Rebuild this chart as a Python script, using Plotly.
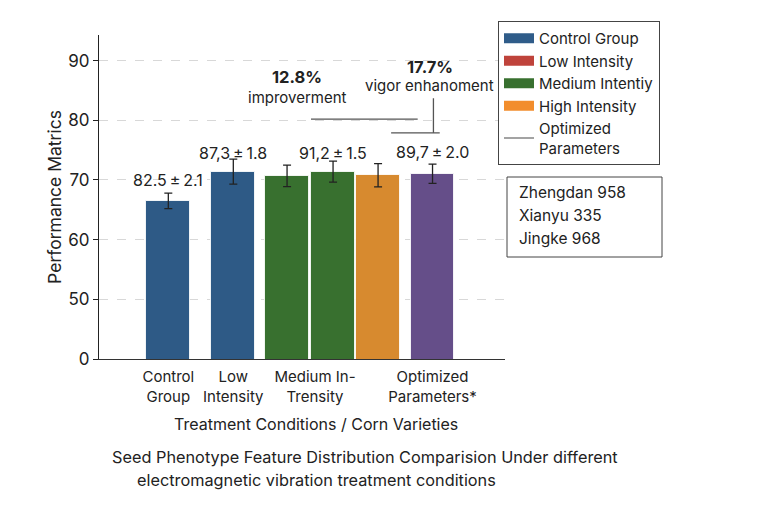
import plotly.graph_objects as go

# ---------------- data ----------------
categories = ["Control Group", "Low Intensity", "Medium Intensity A",
              "Medium Intensity B", "High Intensity", "Optimized Parameters"]
values = [66.5, 71.4, 70.7, 71.4, 70.8, 71.05]
errors = [1.3, 2.1, 1.8, 1.75, 1.95, 1.6]
bar_labels = ["82.5\u2009±\u20092.1", "87,3\u2009±\u20091.8", "", "91,2\u2009±\u20091.5", "",
              "89,7\u2009±\u20092.0"]
tick_labels = ["Control<br>Group", "Low<br>Intensity", "Medium In-<br>Trensity",
               "Optimized<br>Parameters*"]
y_tick_values = [40, 50, 60, 70, 80, 90]
y_tick_text = ["0", "50", "60", "70", "80", "90"]
legend_names = ["Control Group", "Low Intensity", "Medium Intentiy",
                "High Intensity", "Optimized<br>Parameters"]
varieties = ["Zhengdan 958", "Xianyu 335", "Jingke 968"]

# ---------------- layout constants ----------------
W, H = 758, 506
FONT = "Inter"
TXT = "#222222"
bar_x = [0, 1.444, 2.638, 3.66, 4.66, 5.87]
tick_x = [0, 1.444, 3.26, 5.87]
label_y = [70.0, 74.5, 0, 74.5, 0, 74.7]
bar_colors = ["#2E5A86", "#2E5A86", "#38702F", "#38702F", "#D78A2F", "#654E89"]
legend_colors = ["#2F5C89", "#BF433B", "#38702F", "#F28D2C", "#666666"]

L, R, T, B = 99, 253, 35, 147
pw, ph = W - L - R, H - T - B


def px(xp):
    return (xp - L) / pw


def py(yp):
    return (H - B - yp) / ph


fig = go.Figure()
fig.add_trace(go.Bar(
    x=bar_x, y=values, width=0.975,
    marker=dict(color=bar_colors, line=dict(color="rgba(255,255,255,0.85)", width=1)),
    error_y=dict(type="data", array=errors, color="#222222", thickness=1.3, width=4),
    showlegend=False, hoverinfo="skip",
))

for i, (n, c) in enumerate(zip(legend_names, legend_colors)):
    last = i == len(legend_names) - 1
    fig.add_trace(go.Scatter(
        x=[None], y=[None], mode="lines", name=n,
        line=dict(color=c, width=1.2 if last else 10),
    ))

ann = []
for xi, yi, t in zip(bar_x, label_y, bar_labels):
    if t:
        ann.append(dict(x=xi, y=yi, text=t, showarrow=False, xref="x", yref="y",
                        font=dict(size=16, color=TXT, family=FONT)))

ann += [
    dict(x=2.86, y=87.2, xref="x", yref="y", showarrow=False,
         text="<b>12.8%</b>", font=dict(size=16.5, color=TXT, family=FONT)),
    dict(x=2.86, y=83.9, xref="x", yref="y", showarrow=False,
         text="improverment", font=dict(size=15, color=TXT, family=FONT)),
    dict(x=5.81, y=88.9, xref="x", yref="y", showarrow=False,
         text="<b>17.7%</b>", font=dict(size=16.5, color=TXT, family=FONT)),
    dict(x=5.81, y=85.9, xref="x", yref="y", showarrow=False,
         text="vigor enhanoment", font=dict(size=15, color=TXT, family=FONT)),
    # x title
    dict(x=px(316), y=py(424), xref="paper", yref="paper", showarrow=False,
         yanchor="middle", text="Treatment Conditions / Corn Varieties",
         font=dict(size=16, color=TXT, family=FONT)),
    # caption
    dict(x=px(110), y=py(457), xref="paper", yref="paper", xanchor="left",
         yanchor="middle", showarrow=False,
         text="Seed Phenotype Feature Distribution Comparision Under different",
         font=dict(size=16.3, color=TXT, family=FONT)),
    dict(x=px(135), y=py(480), xref="paper", yref="paper", xanchor="left",
         yanchor="middle", showarrow=False,
         text="electromagnetic vibration treatment conditions",
         font=dict(size=16.3, color=TXT, family=FONT)),
]
# variety box lines
for k, v in enumerate(varieties):
    ann.append(dict(x=px(517), y=py(193 + 22.5 * k), xref="paper", yref="paper",
                    xanchor="left", yanchor="middle", showarrow=False, text=v,
                    font=dict(size=15.5, color=TXT, family=FONT)))

line_style = dict(color="#555555", width=1.3)
shapes = [
    dict(type="line", xref="x", yref="y", x0=3.17, x1=5.54, y0=80.2, y1=80.2, line=line_style),
    dict(type="line", xref="x", yref="y", x0=5.89, x1=5.89, y0=77.9, y1=83.7, line=line_style),
    dict(type="line", xref="x", yref="y", x0=4.95, x1=6.03, y0=77.9, y1=77.9, line=line_style),
    dict(type="rect", xref="paper", yref="paper", x0=px(507), x1=px(662),
         y0=py(257), y1=py(177), line=dict(color="#444444", width=1),
         fillcolor="white", layer="above"),
]

fig.update_layout(
    width=W, height=H,
    margin=dict(l=L, r=R, t=T, b=B, autoexpand=False),
    paper_bgcolor="white", plot_bgcolor="white",
    font=dict(family=FONT, color=TXT),
    annotations=ann, shapes=shapes,
    legend=dict(x=px(498), y=1 + (T - 21) / ph, xanchor="left", yanchor="top",
                bgcolor="white", bordercolor="#444444", borderwidth=1,
                font=dict(size=15, color=TXT, family=FONT), itemwidth=30,
                tracegroupgap=0),
    xaxis=dict(range=[-1.54, 7.48], tickvals=tick_x, ticktext=tick_labels,
               showgrid=False, zeroline=False, showline=True, linecolor="#333333",
               linewidth=1.2, ticks="", ticklabelstandoff=4,
               tickfont=dict(size=15, color=TXT, family=FONT),
               automargin=False),
    yaxis=dict(range=[40, 94.3], tickvals=y_tick_values, ticktext=y_tick_text,
               showgrid=True, gridcolor="#D8D8D8", griddash="dash", gridwidth=1,
               zeroline=False, showline=True, linecolor="#222222", linewidth=1.2,
               ticks="outside", ticklen=5, tickcolor="#222222",
               tickfont=dict(size=17, color=TXT, family=FONT),
               title=dict(text="Performance Matrics", standoff=2,
                          font=dict(size=17.5, color=TXT, family=FONT)),
               automargin=False),
    bargap=0,
)

fig.write_html("out.html")
